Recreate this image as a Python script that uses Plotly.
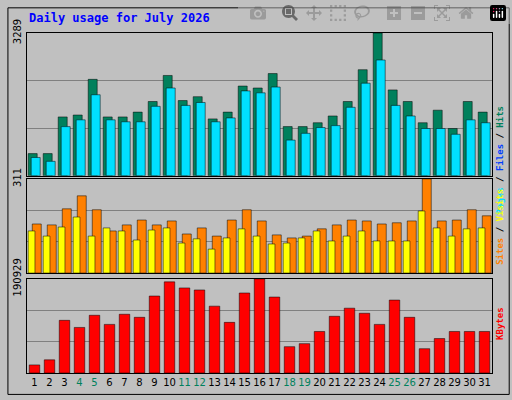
import plotly.graph_objects as go

days = list(range(1, 32))
hits = [511,511,1356,1400,2222,1356,1356,1467,1711,2311,1733,1822,1311,1467,2067,2022,2355,1133,1133,1222,1378,1711,2444,3289,1978,1711,1222,1511,1089,1711,1467]
files = [380,300,1000,1150,1650,1150,1100,1100,1420,1800,1450,1500,1100,1180,1750,1700,1820,730,870,990,1030,1400,1900,2370,1440,1220,970,970,850,1150,1090]
pages = [422,333,1133,1289,1867,1289,1244,1244,1600,2022,1622,1689,1244,1333,1956,1911,2044,822,978,1111,1156,1578,2133,2667,1622,1378,1089,1089,956,1289,1222]
sites = [162,159,212,255,209,139,159,175,159,172,129,149,122,175,209,172,126,116,122,146,159,175,172,162,166,172,311,172,175,209,189]
visits = [139,122,152,185,122,149,139,109,142,149,99,113,79,116,146,122,96,99,116,139,106,122,139,106,106,106,205,149,122,146,149]
kbytes = [16424,26689,106756,92385,117021,98544,119074,112915,156028,184770,172452,168346,135498,102650,162187,190929,153975,53378,59537,84173,114968,131392,121127,98544,147816,112915,49272,69802,84173,84173,84173]
weekends = [4,5,11,12,18,19,25,26]
title = "Daily usage for July 2026"

fig = go.Figure()
def bar(y, color, off, w, ax):
    fig.add_bar(x=days, y=y, marker=dict(color=color, line=dict(color="#000000", width=0.5)),
                offset=off, width=w, xaxis="x"+ax, yaxis="y"+ax, showlegend=False)
bar(hits, "#00805C", -0.42, 0.6, "")
bar(pages, "#00E0FF", -0.22, 0.6, "")
bar(sites, "#FF8000", -0.15, 0.6, "2")
bar(visits, "#FFFF00", -0.42, 0.45, "2")
bar(kbytes, "#FF0000", -0.35, 0.7, "3")

ticktext = [f'<span style="color:{"#00805C" if d in weekends else "#000000"}">{d}</span>' for d in days]
xcommon = dict(range=[0.5, 31.5], showgrid=False, zeroline=False, showline=True, linecolor="#000000", mirror=True)
def yax(m, dom):
    return dict(domain=dom, range=[0, m], tickvals=[0, m/3, 2*m/3, m], ticktext=["", "", "", str(m)],
                tickangle=-90, showgrid=True, gridcolor="#808080", gridwidth=1, zeroline=False,
                showline=True, linecolor="#000000", mirror=True, ticks="", ticklabelstandoff=1,
                tickfont=dict(size=10, family="DejaVu Sans"))
fig.update_layout(
    width=512, height=400, margin=dict(l=22, r=20, t=27, b=23),
    paper_bgcolor="#C0C0C0", plot_bgcolor="#C0C0C0", barmode="overlay",
    font=dict(family="DejaVu Sans", size=10, color="#000000"),
    xaxis=dict(**xcommon, anchor="y", showticklabels=False),
    xaxis2=dict(**xcommon, anchor="y2", showticklabels=False, matches="x"),
    xaxis3=dict(**xcommon, anchor="y3", tickvals=days, ticktext=ticktext, ticks="", tickfont=dict(size=10)),
    yaxis=yax(3289, [0.58, 1.0]),
    yaxis2=yax(311, [0.294, 0.571]),
    yaxis3=yax(190929, [0.0, 0.277]),
    annotations=[
        dict(text=title, x=0, xref="paper", xanchor="left", y=1.07, yref="paper", yanchor="top", showarrow=False,
             font=dict(family="DejaVu Sans Mono", size=12, color="#0000FF", weight="bold")),
        dict(text='<span style="color:#00E0FF">Pages</span><span style="color:#000000"> / </span><span style="color:#0040FF">Files</span><span style="color:#000000"> / </span><span style="color:#00805C">Hits</span>',
             x=1.0, xref="paper", xanchor="left", xshift=1, y=0.79, yref="paper", textangle=-90, showarrow=False,
             font=dict(family="DejaVu Sans Mono", size=9, weight="bold")),
        dict(text='<span style="color:#FF8000">Sites</span><span style="color:#000000"> / </span><span style="color:#FFFF00">Visits</span>',
             x=1.0, xref="paper", xanchor="left", xshift=1, y=0.43, yref="paper", textangle=-90, showarrow=False,
             font=dict(family="DejaVu Sans Mono", size=9, weight="bold")),
        dict(text='<span style="color:#FF0000">KBytes</span>',
             x=1.0, xref="paper", xanchor="left", xshift=1, y=0.09, yref="paper", textangle=-90, showarrow=False,
             font=dict(family="DejaVu Sans Mono", size=9, weight="bold")),
    ],
    shapes=[dict(type="rect", xref="paper", yref="paper", x0=-0.041, x1=1.037, y0=-0.063, y1=1.074,
                 line=dict(color="#000000", width=1))],
)
fig.write_html("out.html", post_script="document.body.style.margin='0';")
